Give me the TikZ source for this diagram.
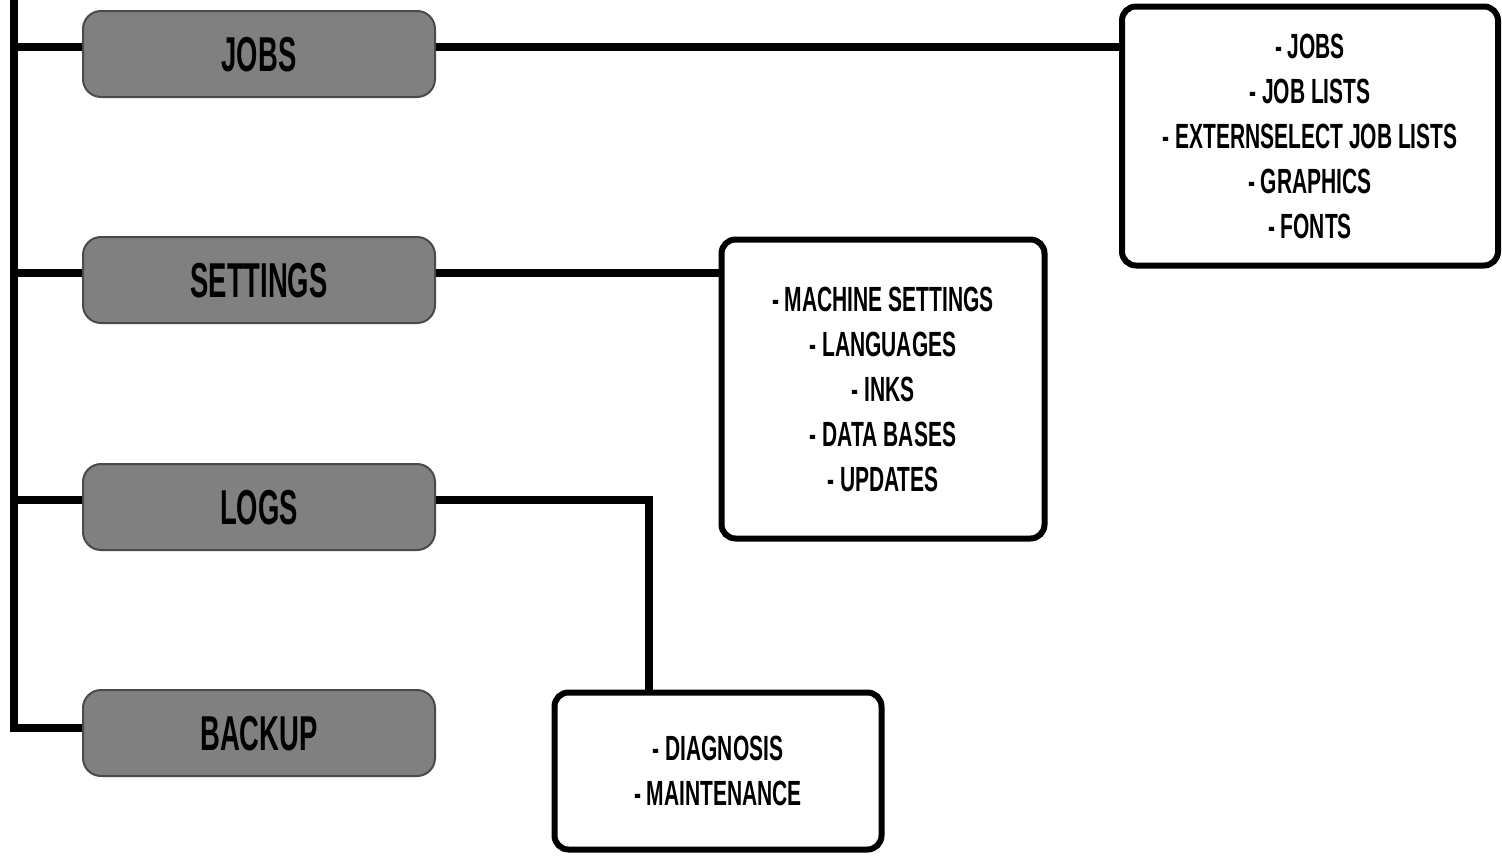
\documentclass[tikz,border=0pt]{standalone}
\usepackage{fontspec}
\newfontfamily\bebas{Liberation Sans}[FakeStretch=0.6]
\newfontfamily\bebaslabel{Liberation Sans}[FakeStretch=0.56]
\definecolor{boxgray}{HTML}{808080}
\definecolor{edgegray}{HTML}{4A4A4A}
\tikzset{
  graybox/.style={draw=edgegray, line width=2pt, fill=boxgray, rounded corners=18pt,
    minimum width=352pt, minimum height=86pt, inner sep=0pt,
    font=\bebaslabel\bfseries\fontsize{49}{49}\selectfont, text height=35pt, text depth=0pt},
  listbox/.style={draw=black, line width=6pt, fill=white, rounded corners=14pt,
    inner sep=0pt, align=center,
    font=\bebas\bfseries\fontsize{35}{45}\selectfont},
  conn/.style={draw=black, line width=8pt, line join=miter, line cap=butt},
}
\begin{document}
\begin{tikzpicture}[x=1pt,y=-1pt]
\useasboundingbox (0,0) rectangle (1502,857);
% gray menu boxes
\node[graybox] (jobs) at (259,54) {JOBS};
\node[graybox] (settings) at (259,280) {SETTINGS};
\node[graybox] (logs) at (259,507) {LOGS};
\node[graybox] (backup) at (259,733) {BACKUP};
% list boxes
\node[listbox, minimum width=376pt, minimum height=259pt] (joblist) at (1310,136)
  {- JOBS\\- JOB LISTS\\- EXTERNSELECT JOB LISTS\\- GRAPHICS\\- FONTS};
\node[listbox, minimum width=323pt, minimum height=299pt] (setlist) at (883,389)
  {- MACHINE SETTINGS\\- LANGUAGES\\- INKS\\- DATA BASES\\- UPDATES};
\node[listbox, minimum width=327pt, minimum height=157pt] (loglist) at (718,771)
  {- DIAGNOSIS\\- MAINTENANCE};
% trunk
\coordinate (trunktop) at (14,-6);
\draw[conn] (trunktop) |- ([yshift=5pt]backup.west);
\draw[conn] ([yshift=7pt]jobs.west) -- ([yshift=7pt]jobs.west -| trunktop);
\draw[conn] ([yshift=7pt]settings.west) -- ([yshift=7pt]settings.west -| trunktop);
\draw[conn] ([yshift=7pt]logs.west) -- ([yshift=7pt]logs.west -| trunktop);
% branches to lists
\draw[conn] ([yshift=7pt]jobs.east) -- ([yshift=7pt]jobs.east -| joblist.west);
\draw[conn] ([yshift=7pt]settings.east) -- ([yshift=7pt]settings.east -| setlist.west);
\draw[conn] ([yshift=7pt]logs.east) -| ([xshift=-69pt]loglist.north);
\end{tikzpicture}
\end{document}
